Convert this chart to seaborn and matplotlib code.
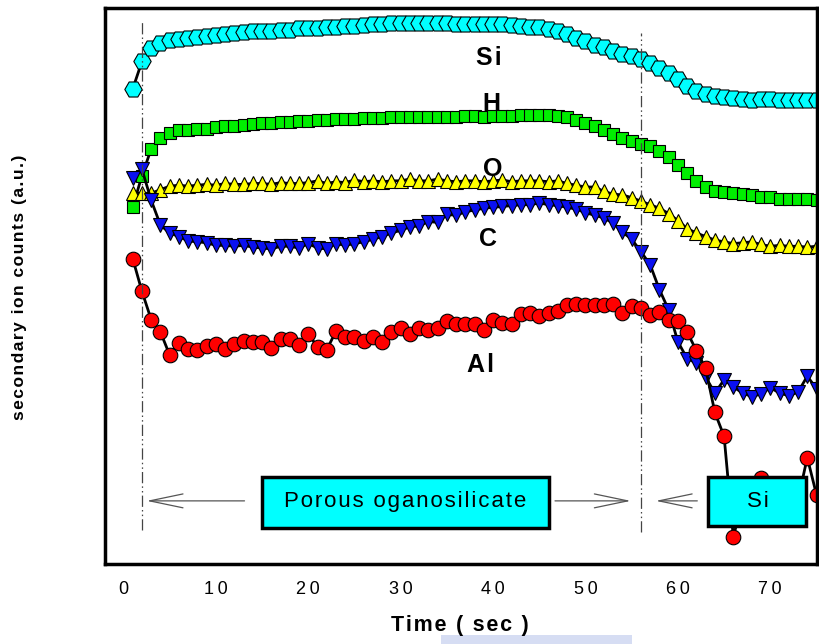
import numpy as np
import pandas as pd
import matplotlib
matplotlib.use("Agg")
import matplotlib.pyplot as plt
import seaborn as sns
from matplotlib.patches import Rectangle

# Depth profile: sputter time (s) and secondary ion counts (a.u., one unit per tick)
time_s = list(range(1, 76))

si = [5.08, 5.39, 5.54, 5.60, 5.63, 5.64, 5.66, 5.67, 5.68, 5.69,
      5.70, 5.71, 5.72, 5.73, 5.73, 5.74, 5.75, 5.75, 5.77, 5.77,
      5.77, 5.78, 5.78, 5.79, 5.79, 5.80, 5.81, 5.81, 5.82, 5.82,
      5.82, 5.82, 5.82, 5.82, 5.82, 5.81, 5.81, 5.81, 5.81, 5.81,
      5.81, 5.80, 5.79, 5.78, 5.78, 5.76, 5.74, 5.70, 5.66, 5.62,
      5.58, 5.55, 5.51, 5.48, 5.45, 5.42, 5.37, 5.32, 5.26, 5.19,
      5.11, 5.06, 5.02, 5.00, 4.99, 4.98, 4.97, 4.96, 4.97, 4.97,
      4.96, 4.96, 4.96, 4.95, 4.95]

h = [3.74, 4.10, 4.40, 4.53, 4.58, 4.61, 4.62, 4.63, 4.63, 4.65,
     4.66, 4.66, 4.67, 4.68, 4.69, 4.69, 4.70, 4.71, 4.72, 4.72,
     4.73, 4.73, 4.74, 4.74, 4.74, 4.75, 4.75, 4.75, 4.76, 4.76,
     4.76, 4.76, 4.76, 4.76, 4.76, 4.76, 4.77, 4.77, 4.76, 4.77,
     4.77, 4.77, 4.78, 4.78, 4.79, 4.79, 4.77, 4.76, 4.73, 4.69,
     4.66, 4.62, 4.57, 4.53, 4.49, 4.46, 4.43, 4.38, 4.31, 4.22,
     4.13, 4.04, 3.97, 3.93, 3.91, 3.90, 3.89, 3.88, 3.86, 3.86,
     3.84, 3.83, 3.83, 3.84, 3.82]

o = [3.90, 3.90, 3.90, 3.94, 3.98, 3.99, 3.98, 3.99, 4.00, 3.99,
     4.01, 4.00, 4.00, 4.01, 4.01, 4.00, 4.02, 4.01, 4.01, 4.02,
     4.04, 4.01, 4.03, 4.02, 4.05, 4.03, 4.04, 4.03, 4.04, 4.04,
     4.06, 4.04, 4.04, 4.06, 4.04, 4.03, 4.04, 4.04, 4.03, 4.04,
     4.05, 4.03, 4.04, 4.04, 4.04, 4.03, 4.04, 4.01, 3.99, 3.97,
     3.97, 3.92, 3.89, 3.88, 3.85, 3.81, 3.77, 3.73, 3.67, 3.59,
     3.50, 3.45, 3.41, 3.37, 3.35, 3.33, 3.34, 3.35, 3.32, 3.30,
     3.31, 3.30, 3.30, 3.29, 3.30]

c = [4.07, 4.17, 3.82, 3.54, 3.45, 3.41, 3.36, 3.35, 3.34, 3.31,
     3.31, 3.30, 3.31, 3.29, 3.28, 3.27, 3.30, 3.30, 3.28, 3.33,
     3.28, 3.27, 3.33, 3.31, 3.33, 3.35, 3.38, 3.41, 3.45, 3.48,
     3.52, 3.53, 3.58, 3.57, 3.66, 3.65, 3.69, 3.71, 3.73, 3.74,
     3.75, 3.76, 3.77, 3.77, 3.79, 3.77, 3.76, 3.74, 3.72, 3.68,
     3.65, 3.62, 3.56, 3.46, 3.38, 3.24, 3.09, 2.81, 2.58, 2.22,
     2.03, 1.98, 1.82, 1.64, 1.79, 1.71, 1.64, 1.60, 1.63, 1.70,
     1.64, 1.61, 1.65, 1.83, 1.69]

al = [3.16, 2.79, 2.47, 2.33, 2.07, 2.21, 2.14, 2.13, 2.17, 2.19,
      2.14, 2.19, 2.23, 2.22, 2.22, 2.15, 2.25, 2.25, 2.18, 2.31,
      2.16, 2.13, 2.34, 2.27, 2.27, 2.23, 2.27, 2.22, 2.33, 2.37,
      2.31, 2.38, 2.35, 2.38, 2.45, 2.42, 2.42, 2.42, 2.35, 2.47,
      2.43, 2.42, 2.53, 2.55, 2.51, 2.54, 2.57, 2.64, 2.65, 2.64,
      2.64, 2.64, 2.65, 2.55, 2.62, 2.60, 2.52, 2.56, 2.47, 2.45,
      2.33, 2.12, 1.92, 1.42, 1.15, 0.01, 0.43, 0.32, 0.68, 0.49,
      0.37, 0.54, 0.43, 0.91, 0.49]

species = ["Si", "H", "O", "C", "Al"]
x_ticks = [0, 10, 20, 30, 40, 50, 60, 70]
interfaces = [2, 56]          # film surface and film / substrate interface (s)
layer_names = ["Porous oganosilicate", "Si"]

# visual styling per species
marker_style = {
    "Si": dict(marker="H", markersize=12.5, markerfacecolor="#00ffff"),
    "H":  dict(marker="s", markersize=9.2, markerfacecolor="#00ee00"),
    "O":  dict(marker="^", markersize=10, markerfacecolor="#ffff00"),
    "C":  dict(marker="v", markersize=10.5, markerfacecolor="#0a10f0"),
    "Al": dict(marker="o", markersize=10.5, markerfacecolor="#ff0000"),
}
label_pos = {"Si": (39.5, 5.43), "H": (39.85, 4.91), "O": (39.95, 4.17),
             "C": (39.4, 3.38), "Al": (38.65, 1.96)}

HS = "\u200a"   # hair space used for letter tracking
TS = "\u2009"   # thin space, wider tracking for tick numbers


def tracked(s, sep=HS):
    return sep.join(s)


df = pd.DataFrame({
    "time": time_s * len(species),
    "counts": si + h + o + c + al,
    "species": np.repeat(species, len(time_s)),
})

sns.set_style("white")
plt.rcParams["font.family"] = ["Liberation Sans", "DejaVu Sans"]
plt.rcParams["text.color"] = "black"
plt.rcParams["xtick.color"] = "black"
plt.rcParams["ytick.color"] = "black"
plt.rcParams["axes.labelcolor"] = "black"

fig = plt.figure(figsize=(8.19, 6.44), dpi=100)
ax = fig.add_axes([105 / 819, 1 - 564 / 644, 711.5 / 819, 556 / 644])

for sp in species:
    sub = df[df["species"] == sp]
    sns.lineplot(data=sub, x="time", y="counts", ax=ax, color="black",
                 linewidth=2.0, markeredgecolor="black", markeredgewidth=0.8,
                 errorbar=None, legend=False, sort=False, **marker_style[sp])

ax.set_xlim(-2, 75)
ax.set_ylim(-0.294, 5.995)
ax.set_xticks(x_ticks)
ax.set_xticklabels([tracked(str(v), TS) for v in x_ticks], fontsize=13, color="black")
ax.set_yticks(range(0, 6))
ax.set_yticklabels([])
ax.tick_params(axis="x", direction="in", length=8, width=1, pad=12, colors="black")
ax.tick_params(axis="y", direction="in", length=9.5, width=1, colors="black")
ax.set_xlabel("")
ax.set_ylabel("")
for sp_name, spine in ax.spines.items():
    spine.set_linewidth(2.5)
    spine.set_color("black")

# interface markers
dash = (0, (9, 2.5, 1.2, 2.5, 1.2, 2.5))
ax.axvline(interfaces[0], ymin=0.061, ymax=0.975, color="#444444", lw=0.9, linestyle=dash, zorder=3)
ax.axvline(interfaces[1], ymin=0.058, ymax=0.955, color="#444444", lw=0.9, linestyle=dash, zorder=3)

# region arrows
arr = dict(arrowstyle="->,head_length=2.4,head_width=0.5", mutation_scale=10,
           lw=0.9, color="#555555", shrinkA=0, shrinkB=0)
y_arr = 0.42
ax.annotate("", xy=(2.5, y_arr), xytext=(13.1, y_arr), arrowprops=arr, zorder=4)
ax.annotate("", xy=(54.9, y_arr), xytext=(46.7, y_arr), arrowprops=arr, zorder=4)
ax.annotate("", xy=(57.6, y_arr), xytext=(62.1, y_arr), arrowprops=arr, zorder=4)

# layer boxes
ax.add_patch(Rectangle((14.96, 0.113), 31.06, 0.577, facecolor="#00ffff",
                       edgecolor="black", lw=2.5, zorder=5))
ax.add_patch(Rectangle((63.26, 0.136), 10.64, 0.554, facecolor="#00ffff",
                       edgecolor="black", lw=2.5, zorder=5))
ax.text(30.5, 0.41, tracked(layer_names[0]), fontsize=16, ha="center", va="center",
        color="black", zorder=6)
ax.text(68.7, 0.41, tracked(layer_names[1]), fontsize=16, ha="center", va="center",
        color="black", zorder=6)

# species labels
for sp in species:
    x, y = label_pos[sp]
    ax.text(x, y, tracked(sp), fontsize=18, fontweight="bold", ha="center",
            va="center", color="black", zorder=6)

fig.text(460 / 819, 1 - 625 / 644, tracked("Time ( sec )"), fontsize=15.5,
         fontweight="bold", ha="center", va="center", color="black")
fig.text(20 / 819, 1 - 287 / 644, tracked("secondary ion counts (a.u.)"),
         fontsize=12.5, fontweight="bold", rotation=90, ha="center", va="center",
         color="black")

# faint stamp along the lower edge of the page
fig.patches.append(Rectangle((441 / 819, 0), 191 / 819, 9 / 644, transform=fig.transFigure,
                             facecolor="#d6ddf3", edgecolor="none", zorder=0))

fig.savefig("out.png", dpi=100)
